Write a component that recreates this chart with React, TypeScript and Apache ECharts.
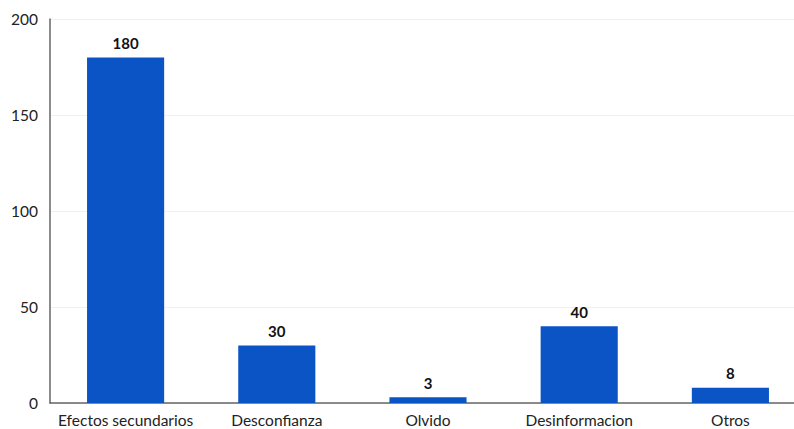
import React, { useEffect, useRef } from "react";
import * as echarts from "echarts";

const categories = ["Efectos secundarios", "Desconfianza", "Olvido", "Desinformacion", "Otros"];
const values = [180, 30, 3, 40, 8];
const yTicks = [0, 50, 100, 150, 200];

export default function App() {
  const ref = useRef<HTMLDivElement>(null);
  useEffect(() => {
    if (!ref.current) return;
    const chart = echarts.init(ref.current, undefined, { renderer: "svg" });
    chart.setOption({
      animation: false,
      backgroundColor: "#ffffff",
      textStyle: { fontFamily: "Lato, 'Open Sans', sans-serif" },
      grid: { left: 50, top: 19, right: 0, height: 384, containLabel: false },
      xAxis: {
        type: "category",
        data: categories,
        axisLine: { lineStyle: { color: "#666", width: 1.5 } },
        axisTick: { show: false },
        axisLabel: { color: "#222", fontSize: 15.5, margin: 9, interval: 0 },
      },
      yAxis: {
        type: "value",
        min: yTicks[0],
        max: yTicks[yTicks.length - 1],
        interval: 50,
        axisLine: { show: true, lineStyle: { color: "#666", width: 1.5 } },
        axisTick: { show: false },
        axisLabel: { color: "#222", fontSize: 15.5, margin: 12 },
        splitLine: { show: true, lineStyle: { color: "#f0f0f0", width: 1 } },
      },
      series: [
        {
          type: "bar",
          data: values,
          barWidth: "51%",
          itemStyle: { color: "#0b54c6" },
          label: {
            show: true,
            position: "top",
            color: "#111",
            fontSize: 15,
            fontWeight: "bold",
            distance: 7,
          },
        },
      ],
    });
    return () => chart.dispose();
  }, []);
  return (
    <div style={{ position: "fixed", left: 0, top: 0, width: 794, height: 429, overflow: "hidden" }}>
      <div ref={ref} style={{ width: 806, height: 429 }} />
    </div>
  );
}
